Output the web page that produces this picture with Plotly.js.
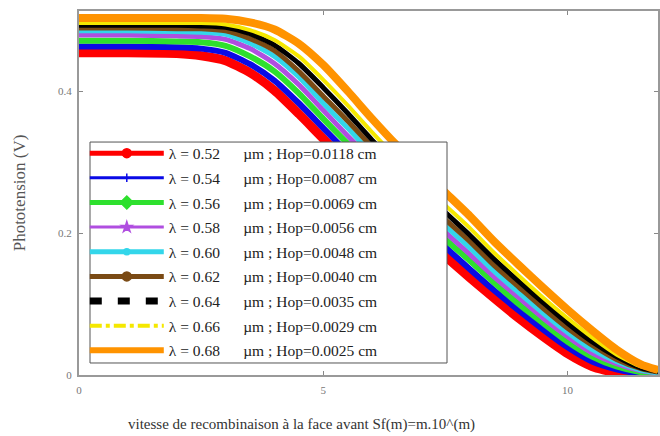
<!DOCTYPE html>
<html>
<head>
<meta charset="utf-8">
<script src="https://cdn.plot.ly/plotly-3.0.1.min.js"></script>
<style>html,body{margin:0;padding:0;background:#fff;}#chart{width:660px;height:436px;}</style>
</head>
<body>
<div id="chart"></div>
<script>
// m values (x axis: Sf(m) = m.10^(m))
const mValues = [0, 1, 2, 2.5, 3, 3.5, 4, 4.5, 5, 5.5, 6, 6.5, 7, 7.5, 8, 8.5, 9, 9.5, 10, 10.5, 11, 11.5, 11.85];

// Phototension (V)
const v052 = [0.454, 0.454, 0.453, 0.450, 0.443, 0.426, 0.401, 0.368, 0.333, 0.299, 0.265, 0.232, 0.199, 0.167, 0.137, 0.108, 0.080, 0.054, 0.030, 0.012, 0.003, 0.000, 0.000];
const v054 = [0.463, 0.463, 0.462, 0.460, 0.454, 0.438, 0.415, 0.383, 0.348, 0.313, 0.278, 0.245, 0.212, 0.180, 0.149, 0.119, 0.091, 0.064, 0.039, 0.019, 0.008, 0.002, 0.001];
const v056 = [0.471, 0.471, 0.470, 0.469, 0.464, 0.449, 0.428, 0.397, 0.361, 0.326, 0.291, 0.257, 0.224, 0.191, 0.161, 0.130, 0.100, 0.073, 0.047, 0.026, 0.012, 0.004, 0.002];
const v058 = [0.479, 0.479, 0.478, 0.477, 0.473, 0.460, 0.439, 0.409, 0.373, 0.337, 0.302, 0.267, 0.234, 0.201, 0.170, 0.138, 0.109, 0.080, 0.054, 0.031, 0.016, 0.006, 0.003];
const v060 = [0.485, 0.485, 0.484, 0.483, 0.480, 0.468, 0.449, 0.420, 0.383, 0.348, 0.311, 0.276, 0.243, 0.210, 0.179, 0.146, 0.116, 0.087, 0.060, 0.036, 0.019, 0.007, 0.003];
const v062 = [0.489, 0.489, 0.488, 0.488, 0.485, 0.474, 0.457, 0.428, 0.393, 0.358, 0.321, 0.285, 0.252, 0.219, 0.188, 0.154, 0.124, 0.094, 0.066, 0.042, 0.022, 0.009, 0.004];
const v064 = [0.493, 0.493, 0.493, 0.492, 0.490, 0.481, 0.465, 0.439, 0.405, 0.369, 0.331, 0.296, 0.262, 0.229, 0.197, 0.163, 0.132, 0.102, 0.073, 0.047, 0.026, 0.010, 0.005];
const v066 = [0.496, 0.496, 0.496, 0.496, 0.494, 0.486, 0.472, 0.449, 0.416, 0.380, 0.342, 0.306, 0.272, 0.239, 0.207, 0.172, 0.140, 0.109, 0.080, 0.053, 0.029, 0.012, 0.006];
const v068 = [0.503, 0.503, 0.503, 0.503, 0.502, 0.497, 0.487, 0.467, 0.437, 0.400, 0.361, 0.324, 0.290, 0.257, 0.224, 0.188, 0.155, 0.123, 0.092, 0.063, 0.036, 0.015, 0.007];

const seriesValues = [v052, v054, v056, v058, v060, v062, v064, v066, v068];
const lambdas = ["0.52", "0.54", "0.56", "0.58", "0.60", "0.62", "0.64", "0.66", "0.68"];
const hops = ["0.0118", "0.0087", "0.0069", "0.0056", "0.0048", "0.0040", "0.0035", "0.0029", "0.0025"];

const xTickVals = [0, 5, 10];
const xTickText = ["0", "5", "10"];
const yTickVals = [0, 0.2, 0.4];
const yTickText = ["0", "0.2", "0.4"];

const colors = ["#ff0000", "#0a0ae6", "#2ee02e", "#b04ee0", "#33d6ea", "#7a4a14", "#000000", "#f5e800", "#ff9300"];
const plotWidths = [9, 6, 6, 5, 5, 5, 5, 4, 8];
const legStyles = [
  {w: 5, dash: "solid", sym: "circle", ms: 9},
  {w: 3, dash: "solid", sym: "cross-thin", ms: 6},
  {w: 5, dash: "solid", sym: "diamond", ms: 10},
  {w: 3, dash: "solid", sym: "star", ms: 8},
  {w: 5, dash: "solid", sym: "circle", ms: 6},
  {w: 5, dash: "solid", sym: "circle", ms: 9},
  {w: 7, dash: "12px,16px", sym: null, ms: 0},
  {w: 4, dash: "dashdot", sym: null, ms: 0},
  {w: 6, dash: "solid", sym: null, ms: 0}
];

const nb = "\u00a0";
const traces = [];
seriesValues.forEach((vals, i) => {
  traces.push({
    x: mValues, y: vals, type: "scatter", mode: "lines",
    line: {color: colors[i], width: plotWidths[i], shape: "spline", smoothing: 0.6},
    showlegend: false, hoverinfo: "skip"
  });
});
seriesValues.forEach((vals, i) => {
  const s = legStyles[i];
  const t = {
    x: [null], y: [null], type: "scatter",
    mode: s.sym ? "lines+markers" : "lines",
    line: {color: colors[i], width: s.w, dash: s.dash},
    name: "λ = " + lambdas[i] + nb.repeat(6) + "µm ; Hop=" + hops[i] + " cm",
    legendgroup: "g" + i, showlegend: true
  };
  if (s.sym) {
    t.marker = {symbol: s.sym, size: s.ms, color: colors[i], line: {color: colors[i], width: 1.5}};
  }
  traces.push(t);
});

const serif = "Liberation Serif, Times New Roman, serif";
const layout = {
  width: 660, height: 436,
  margin: {l: 79, r: 2, t: 11, b: 61},
  paper_bgcolor: "#ffffff", plot_bgcolor: "#ffffff",
  showlegend: true,
  xaxis: {
    range: [0, 11.85], tickvals: xTickVals, ticktext: xTickText,
    ticks: "inside", ticklen: 4, tickwidth: 1, tickcolor: "#888",
    showline: true, linecolor: "#999", linewidth: 2, mirror: "ticks",
    showgrid: false, zeroline: false, ticklabelstandoff: 4,
    tickfont: {family: serif, size: 11, color: "#777"}
  },
  yaxis: {
    range: [0, 0.513], tickvals: yTickVals, ticktext: yTickText,
    ticks: "inside", ticklen: 4, tickwidth: 1, tickcolor: "#888",
    showline: true, linecolor: "#999", linewidth: 2, mirror: "ticks",
    showgrid: false, zeroline: false, ticklabelstandoff: 3,
    tickfont: {family: serif, size: 11, color: "#777"},
    title: {text: "Phototension (V)", font: {family: serif, size: 17, color: "#555"}, standoff: 28}
  },
  legend: {
    x: 0.01, y: 0.655, xanchor: "left", yanchor: "top",
    bgcolor: "rgba(0,0,0,0)", borderwidth: 0,
    font: {family: serif, size: 15.5, color: "#222"},
    itemwidth: 74, tracegroupgap: 1.5, traceorder: "grouped"
  },
  shapes: [{
    type: "rect", xref: "paper", yref: "paper",
    x0: 0.019, x1: 0.6356, y0: 0.033, y1: 0.640,
    fillcolor: "#ffffff", line: {color: "#555", width: 1}, layer: "above"
  }],
  annotations: [{
    text: "vitesse de recombinaison à la face avant Sf(m)=m.10^(m)",
    xref: "paper", yref: "paper", x: 0.385, y: -0.135,
    xanchor: "center", yanchor: "middle", showarrow: false,
    font: {family: serif, size: 15, color: "#333"}
  }]
};

Plotly.newPlot("chart", traces, layout, {staticPlot: true, displayModeBar: false});
</script>
</body>
</html>
